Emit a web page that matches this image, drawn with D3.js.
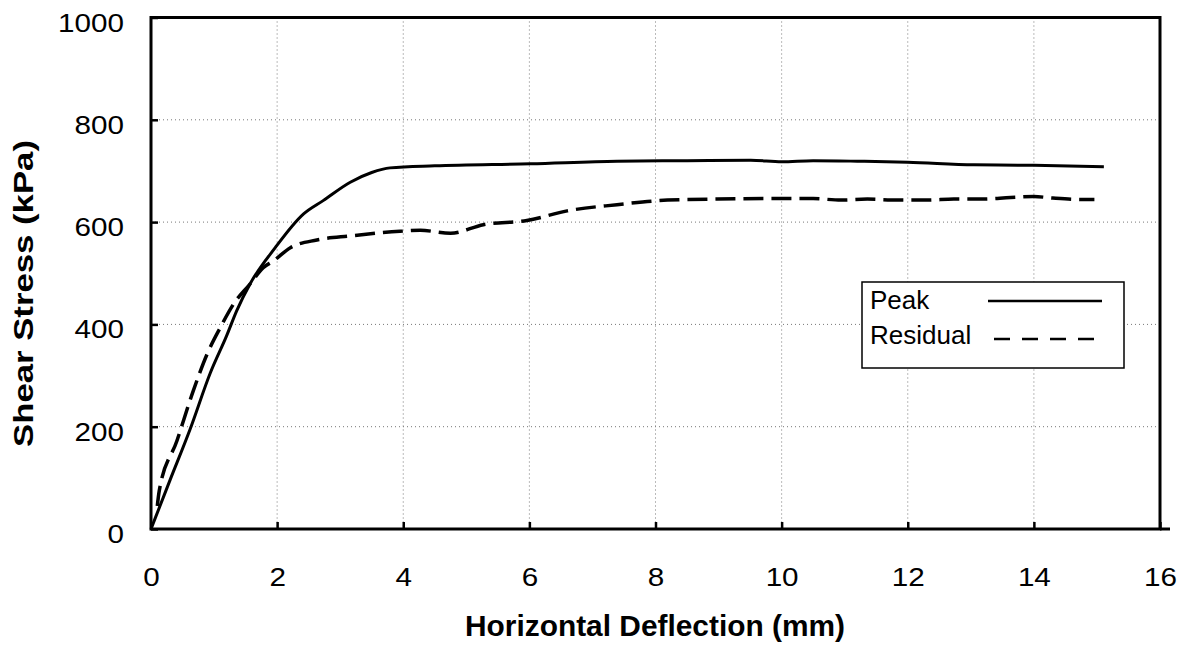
<!DOCTYPE html>
<html>
<head>
<meta charset="utf-8">
<script src="https://cdn.jsdelivr.net/npm/d3@7"></script>
<style>
  body { margin: 0; background: #fff; }
  text { font-family: "Liberation Sans", Arial, sans-serif; fill: #000; }
</style>
</head>
<body>
<div id="chart"></div>
<script>
// values
var peakX = [0, 0.3, 0.62, 0.94, 1.2, 1.36, 1.57, 1.97, 2.42, 2.73, 3.16, 3.5, 3.79, 4.5, 6.02, 7.39, 8.5, 9.51, 10.0, 10.5, 11.2, 12.0, 13.05, 14.0, 15.11];
var peakY = [0, 95, 195, 305, 378, 427, 479, 550, 616, 642, 678, 697, 706, 710, 714, 719, 720, 721, 718, 720, 719, 717, 712, 711, 708];

var resX = [0.1, 0.13, 0.41, 0.67, 0.89, 1.1, 1.31, 1.57, 1.78, 1.94, 2.21, 2.63, 3.16, 3.95, 4.27, 4.75, 5.27, 5.96, 6.6, 7.39, 8.19, 8.98, 9.77, 10.5, 10.94, 11.36, 11.84, 12.3, 12.73, 13.16, 13.63, 14.0, 14.3, 14.8, 14.96];
var resY = [45, 74, 172, 270, 342, 394, 440, 479, 511, 524, 550, 565, 573, 582, 584, 578, 595, 603, 622, 634, 643, 645, 646, 646, 643, 645, 643, 643, 645, 645, 648, 650, 647, 644, 644];

var xTicks = [0, 2, 4, 6, 8, 10, 12, 14, 16];
var yTicks = [0, 200, 400, 600, 800, 1000];
var seriesNames = ["Peak", "Residual"];

var W = 1189, H = 645;
var margin = {top: 17.5, right: 29, bottom: 116, left: 151};
var width = W - margin.left - margin.right,
    height = H - margin.top - margin.bottom;

var x = d3.scaleLinear().domain([0, 16]).range([0, width]);
var y = d3.scaleLinear().domain([0, 1000]).range([height, 0]);

var svg = d3.select("#chart").append("svg")
    .attr("width", W).attr("height", H)
  .append("g")
    .attr("transform", "translate(" + margin.left + "," + margin.top + ")");

// dotted grid
svg.append("g").selectAll("line")
    .data(xTicks.slice(1, -1))
  .enter().append("line")
    .attr("x1", function(d) { return x(d); }).attr("x2", function(d) { return x(d); })
    .attr("y1", 0).attr("y2", height)
    .attr("stroke", "#777").attr("stroke-width", 1).attr("stroke-dasharray", "1,3");
svg.append("g").selectAll("line")
    .data(yTicks.slice(1, -1))
  .enter().append("line")
    .attr("y1", function(d) { return y(d); }).attr("y2", function(d) { return y(d); })
    .attr("x1", 0).attr("x2", width)
    .attr("stroke", "#777").attr("stroke-width", 1).attr("stroke-dasharray", "1,3");

// axes (ticks point inward)
var xAxis = d3.axisBottom(x).tickValues(xTicks).tickSize(-7).tickFormat(d3.format("d"));
var yAxis = d3.axisLeft(y).tickValues(yTicks).tickSize(-7).tickFormat(d3.format("d"));

var gx = svg.append("g").attr("transform", "translate(0," + height + ")").call(xAxis);
var gy = svg.append("g").call(yAxis);
[gx, gy].forEach(function(g) {
  g.select(".domain").remove();
  g.selectAll(".tick line").attr("stroke", "#000").attr("stroke-width", 2.5);
  g.selectAll(".tick text")
      .style("font-size", "26px").attr("fill", "#000")
      .attr("textLength", function(d) { return String(d).length * 16.5; })
      .attr("lengthAdjust", "spacingAndGlyphs");
});
gx.selectAll(".tick text").attr("y", 57).attr("dy", 0);
gy.selectAll(".tick text").attr("x", -27).attr("y", 13.5).attr("dy", 0);

// frame
svg.append("rect")
    .attr("x", 0).attr("y", 0).attr("width", width).attr("height", height)
    .attr("fill", "none").attr("stroke", "#000").attr("stroke-width", 3);
svg.append("line")
    .attr("x1", width).attr("x2", width + 10).attr("y1", height).attr("y2", height)
    .attr("stroke", "#000").attr("stroke-width", 3);

// curves
var line = d3.line()
    .x(function(d) { return x(d[0]); })
    .y(function(d) { return y(d[1]); })
    .curve(d3.curveMonotoneX);

svg.append("path")
    .datum(d3.zip(peakX, peakY))
    .attr("d", line)
    .attr("fill", "none").attr("stroke", "#000").attr("stroke-width", 3);

svg.append("path")
    .datum(d3.zip(resX, resY))
    .attr("d", line)
    .attr("fill", "none").attr("stroke", "#000").attr("stroke-width", 3.5)
    .attr("stroke-dasharray", "20,8");

// legend
var lg = svg.append("g").attr("transform", "translate(" + (862 - margin.left) + "," + (282 - margin.top) + ")");
lg.append("rect")
    .attr("width", 262).attr("height", 86)
    .attr("fill", "#fff").attr("stroke", "#000").attr("stroke-width", 1.5);
seriesNames.forEach(function(name, i) {
  lg.append("text")
      .attr("x", 8).attr("y", 27 + i * 35)
      .style("font-size", "26px")
      .text(name);
  lg.append("line")
      .attr("x1", i === 0 ? 126 : 132).attr("x2", 240)
      .attr("y1", 19 + i * 38).attr("y2", 19 + i * 38)
      .attr("stroke", "#000").attr("stroke-width", 2.5)
      .attr("stroke-dasharray", i === 0 ? null : "16,12");
});

// axis titles
svg.append("text")
    .attr("x", 655 - margin.left).attr("y", 636 - margin.top)
    .attr("text-anchor", "middle")
    .style("font-size", "29px").style("font-weight", "bold")
    .attr("textLength", 380).attr("lengthAdjust", "spacingAndGlyphs")
    .text("Horizontal Deflection (mm)");

svg.append("text")
    .attr("transform", "translate(" + (33 - margin.left) + "," + (293.5 - margin.top) + ") rotate(-90)")
    .attr("text-anchor", "middle")
    .style("font-size", "27px").style("font-weight", "bold")
    .attr("textLength", 307).attr("lengthAdjust", "spacingAndGlyphs")
    .text("Shear Stress (kPa)");
</script>
</body>
</html>
